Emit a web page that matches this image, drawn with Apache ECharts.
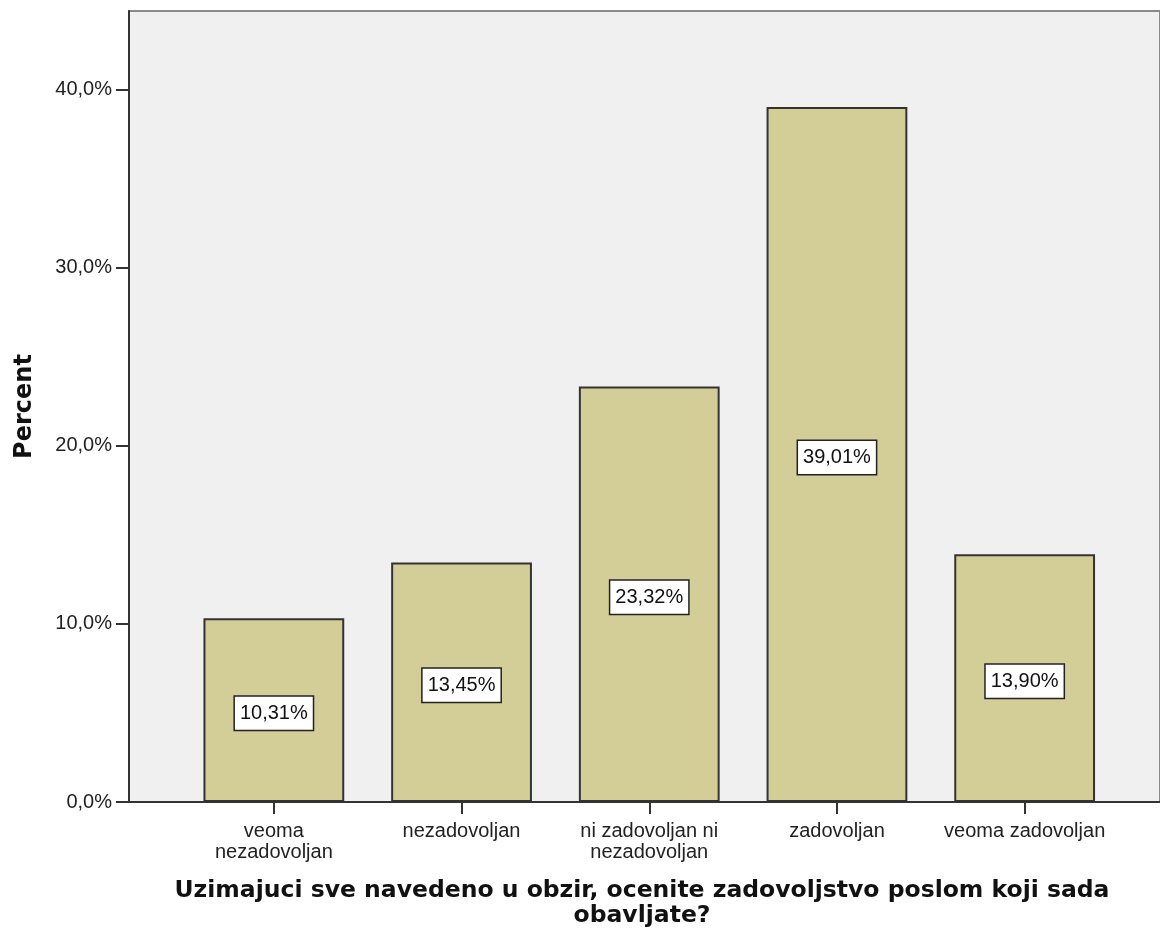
<!DOCTYPE html>
<html><head><meta charset="utf-8">
<script src="https://cdn.jsdelivr.net/npm/echarts@6/dist/echarts.min.js"></script>
<style>html,body{margin:0;padding:0;background:#fff}#c{width:1160px;height:942px}</style>
</head><body><div id="c"></div>
<script>
const categories = ['veoma\nnezadovoljan', 'nezadovoljan', 'ni zadovoljan ni\nnezadovoljan', 'zadovoljan', 'veoma zadovoljan'];
const percentValues = [10.31, 13.45, 23.32, 39.01, 13.90];
const yTicks = [0, 10, 20, 30, 40];
const yAxisTitle = 'Percent';
const xAxisTitle = 'Uzimajuci sve navedeno u obzir, ocenite zadovoljstvo poslom koji sada\nobavljate?';

const fmtPct = (v, d) => v.toFixed(d).replace('.', ',') + '%';
const chart = echarts.init(document.getElementById('c'), null, {renderer: 'canvas'});
const yMin = 0, yMax = 44.4;
chart.setOption({
  animation: false,
  backgroundColor: '#ffffff',
  grid: [
    {left: 129, right: -10, top: 11, bottom: 140, show: true, backgroundColor: '#f0f0f0', borderColor: '#8a8a8a', borderWidth: 2, containLabel: false},
    {left: 180, right: 41.5, top: 11, bottom: 140, containLabel: false}
  ],
  xAxis: [
    {gridIndex: 0, type: 'value', min: 0, max: 1, axisLine: {show: true, onZero: false, lineStyle: {color: '#333', width: 2}}, axisTick: {show: false}, axisLabel: {show: false}, splitLine: {show: false}},
    {gridIndex: 1, type: 'category', data: categories, axisLine: {show: false}, axisTick: {show: true, alignWithLabel: true, length: 12, lineStyle: {color: '#333', width: 2}},
     axisLabel: {color: '#222', fontFamily: 'Liberation Sans, Arial', fontSize: 20, lineHeight: 21, margin: 19, interval: 0}, splitLine: {show: false}}
  ],
  yAxis: [
    {gridIndex: 0, type: 'value', min: yMin, max: yMax, interval: 10,
     axisLine: {show: true, lineStyle: {color: '#333', width: 2}},
     axisTick: {show: true, length: 13, customValues: yTicks, lineStyle: {color: '#333', width: 2}},
     axisLabel: {color: '#222', fontFamily: 'Liberation Sans, Arial', fontSize: 20, margin: 17, customValues: yTicks, formatter: v => fmtPct(v, 1)},
     splitLine: {show: false},
     name: yAxisTitle, nameLocation: 'middle', nameGap: 92, nameRotate: 90,
     nameTextStyle: {color: '#111', fontFamily: 'DejaVu Sans', fontWeight: 'bold', fontSize: 24}},
    {gridIndex: 1, type: 'value', min: yMin, max: yMax, show: false}
  ],
  title: {text: xAxisTitle, left: 637, top: 873, textAlign: 'center',
    textStyle: {color: '#111', fontFamily: 'DejaVu Sans', fontWeight: 'bold', fontSize: 23.5, lineHeight: 25}},
  series: [{
    type: 'bar', xAxisIndex: 1, yAxisIndex: 1, data: percentValues, barWidth: '75%',
    itemStyle: {color: '#d3ce97', borderColor: '#333', borderWidth: 2},
    label: {show: true, position: 'inside', formatter: p => fmtPct(p.value, 2), color: '#111',
      fontFamily: 'Liberation Sans, Arial', fontSize: 20, lineHeight: 22, backgroundColor: '#fff', borderColor: '#222', borderWidth: 1.5,
      padding: [6, 5, 5, 5], offset: [0, 3]}
  }]
});
</script></body></html>
